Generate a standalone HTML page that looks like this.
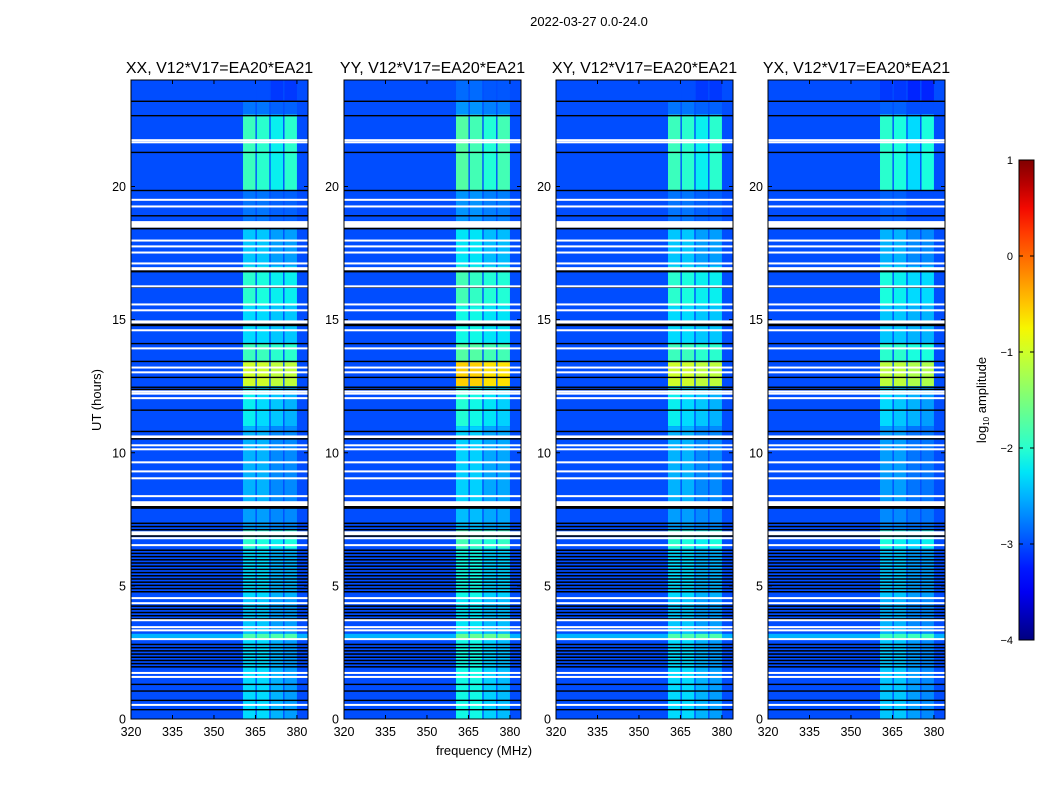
<!DOCTYPE html>
<html><head><meta charset="utf-8">
<style>
body{margin:0;background:#fff;}
svg{display:block;font-family:"Liberation Sans",sans-serif;}
</style></head>
<body>
<svg id="fig" width="1050" height="800" viewBox="0 0 1050 800">
<text x="589" y="26" font-size="13" text-anchor="middle">2022-03-27 0.0-24.0</text>
<text x="0" y="0" font-size="13" text-anchor="middle" transform="translate(101,400) rotate(-90)">UT (hours)</text>
<text x="484" y="755" font-size="13" text-anchor="middle">frequency (MHz)</text>
</svg>
<script>
// ---- data ----
const panelTitles = ["XX, V12*V17=EA20*EA21","YY, V12*V17=EA20*EA21","XY, V12*V17=EA20*EA21","YX, V12*V17=EA20*EA21"];
const panelLefts = [131,344,556,768];
const panelOffsets = [0, 0.15, 0.0, -0.1];
const xTicks = [320,335,350,365,380];
const yTicks = [0,5,10,15,20];
const cbTicks = [1,0,-1,-2,-3,-4];
const bgLevel = -3.0;
const bandStart = [360.5,365.5,370.5,375.5];
const bandEnd = [365,370,375,380];
const segStart = [23.2,22.7,19.85,18.4,17.0,15.5,14.1,13.4,12.5,11.0,8.0,7.1,6.4,4.5,3.2,3.0,0.0];
const segEnd   = [24.0,23.2,22.7,19.85,18.4,17.0,15.5,14.1,13.4,12.5,11.0,8.0,7.1,6.4,4.5,3.2,3.0];
const segB1 = [-3.0,-2.8,-1.9,-2.8,-2.4,-2.0,-2.3,-1.9,-1.0,-2.2,-2.5,-2.6,-2.0,-2.3,-2.4,-1.8,-2.3];
const segB2 = [-3.0,-2.8,-2.0,-2.8,-2.4,-2.1,-2.3,-1.9,-1.0,-2.3,-2.5,-2.6,-2.1,-2.3,-2.4,-1.8,-2.3];
const segB3 = [-3.1,-2.9,-2.2,-2.9,-2.6,-2.2,-2.4,-2.0,-1.1,-2.4,-2.7,-2.7,-2.2,-2.5,-2.6,-1.8,-2.5];
const segB4 = [-3.1,-2.9,-2.0,-2.9,-2.6,-2.2,-2.4,-2.0,-1.1,-2.5,-2.7,-2.7,-2.1,-2.5,-2.6,-1.8,-2.6];
const brightRowStart = [3.0];
const brightRowEnd = [3.2];
const brightRowLevel = [-2.5];
const whiteTimes = [21.74,21.66,19.5,19.25,17.97,17.75,17.52,17.11,16.25,15.57,15.35,14.6,13.92,13.2,13.02,12.3,12.22,12.05,10.28,10.13,9.64,9.3,9.04,8.37,6.79,6.53,4.54,4.35,3.71,3.45,3.33,3.0,1.73,1.58,0.53];
const whiteBandStart = [18.45,16.85,14.85,10.55,8.0,6.9];
const whiteBandEnd = [18.7,16.97,14.97,10.65,8.18,7.05];
const blackTimes = [23.2,22.66,21.28,19.85,18.9,18.42,16.8,16.22,14.78,14.1,13.43,12.83,12.46,12.38,11.6,10.8,7.92,1.3,1.05,0.7,0.35];
const darkStart = [7.1,4.77,3.75,1.95];
const darkEnd = [7.4,6.4,4.3,2.9];

// ---- helpers ----
const NS="http://www.w3.org/2000/svg";
const svg=document.getElementById('fig');
const pTop=80,pBot=719,pW=177,fMin=320,fMax=384,tMax=24;
const cbX=1019,cbW=15,cbTop=160,cbBot=640,vMin=-4,vMax=1;
function yOf(h){return pBot-(h/tMax)*(pBot-pTop);}
function xOf(left,f){return left+(f-fMin)/(fMax-fMin)*pW;}
function interp(pts,t){for(let i=1;i<pts.length;i++){if(t<=pts[i][0]){const a=pts[i-1],b=pts[i];return a[1]+(b[1]-a[1])*(t-a[0])/(b[0]-a[0]);}}return pts[pts.length-1][1];}
function jet(v){let t=(v-vMin)/(vMax-vMin);t=Math.max(0,Math.min(1,t));
 const r=interp([[0,0],[0.35,0],[0.66,1],[0.89,1],[1,0.5]],t);
 const g=interp([[0,0],[0.125,0],[0.375,1],[0.64,1],[0.91,0],[1,0]],t);
 const b=interp([[0,0.5],[0.11,1],[0.34,1],[0.65,0],[1,0]],t);
 return `rgb(${Math.round(r*255)},${Math.round(g*255)},${Math.round(b*255)})`;}
function mk(tag,attrs,parent){const e=document.createElementNS(NS,tag);for(const k in attrs)e.setAttribute(k,attrs[k]);(parent||svg).appendChild(e);return e;}

const segBands=[segB1,segB2,segB3,segB4];
panelLefts.forEach((L,p)=>{
 const g=mk('g',{});
 
 
 const bg=mk('rect',{x:L,y:pTop,width:pW,height:pBot-pTop,fill:jet(bgLevel)},g);
 
 
 brightRowStart.forEach((s,i)=>{
  const r=mk('rect',{x:L,y:yOf(brightRowEnd[i]),width:pW,height:yOf(s)-yOf(brightRowEnd[i]),fill:jet(brightRowLevel[i])},g);
  
  
 });
 segStart.forEach((s,i)=>{
  for(let b=0;b<4;b++){
   let v=segBands[b][i]+panelOffsets[p];
   if(p===1&&s===12.5)v+=0.3;
   const x0=xOf(L,bandStart[b]),x1=xOf(L,bandEnd[b]);
   const r=mk('rect',{x:x0,y:yOf(segEnd[i]),width:x1-x0,height:yOf(s)-yOf(segEnd[i]),fill:jet(v)},g);
   
   
  }
 });
 darkStart.forEach((s,i)=>{
  for(let h=s;h<darkEnd[i];h+=0.12){
   const r=mk('rect',{x:L,y:yOf(h)-1,width:pW,height:1.5,fill:'#000'},g);
   
   
  }
 });
 blackTimes.forEach(h=>{
  const r=mk('rect',{x:L,y:yOf(h)-0.7,width:pW,height:1.4,fill:'#000'},g);
  
  
 });
 whiteTimes.forEach(h=>{
  const r=mk('rect',{x:L,y:yOf(h)-1,width:pW,height:2,fill:'#fff'},g);
  
  
 });
 whiteBandStart.forEach((s,i)=>{
  const y0=yOf(whiteBandEnd[i]),y1=yOf(s);
  const r=mk('rect',{x:L,y:y0,width:pW,height:y1-y0,fill:'#fff'},g);
  
  
  mk('rect',{x:L,y:y1,width:pW,height:1.5,fill:'#000'},g);
 });
 const fr=mk('rect',{x:L,y:pTop,width:pW,height:pBot-pTop,fill:'none',stroke:'#000','stroke-width':1},g);
 
 
 const tt=mk('text',{x:L+pW/2,y:73,'font-size':16,'text-anchor':'middle'},g);
 tt.textContent=panelTitles[p];
 
 
 xTicks.forEach(f=>{
  const x=xOf(L,f);
  mk('line',{x1:x,x2:x,y1:pBot,y2:pBot-4,stroke:'#000'},g);
  mk('line',{x1:x,x2:x,y1:pTop,y2:pTop+4,stroke:'#000'},g);
  const t=mk('text',{x:x,y:pBot+17,'font-size':12.5,'text-anchor':'middle'},g);
  t.textContent=f;
  
  
 });
 yTicks.forEach(h=>{
  const y=yOf(h);
  mk('line',{x1:L,x2:L+4,y1:y,y2:y,stroke:'#000'},g);
  mk('line',{x1:L+pW,x2:L+pW-4,y1:y,y2:y,stroke:'#000'},g);
  const t=mk('text',{x:L-5,y:y+4.5,'font-size':12.5,'text-anchor':'end'},g);
  t.textContent=h;
  
  
 });
});

// colorbar
const defs=mk('defs',{});
const grad=mk('linearGradient',{id:'jetg',x1:0,y1:1,x2:0,y2:0},defs);
for(let i=0;i<=20;i++){const v=vMin+(vMax-vMin)*i/20;mk('stop',{offset:(i/20),'stop-color':jet(v)},grad);}
const cb=mk('rect',{x:cbX,y:cbTop,width:cbW,height:cbBot-cbTop,fill:'url(#jetg)',stroke:'#000','stroke-width':1});


cbTicks.forEach(v=>{
 const y=cbBot-(v-vMin)/(vMax-vMin)*(cbBot-cbTop);
 mk('line',{x1:cbX,x2:cbX+4,y1:y,y2:y,stroke:'#000'});
 mk('line',{x1:cbX+cbW,x2:cbX+cbW-4,y1:y,y2:y,stroke:'#000'});
 const t=mk('text',{x:cbX-6,y:y+4,'font-size':11,'text-anchor':'end'});
 t.textContent=v<0?'\u2212'+(-v):String(v);
 
 
});
const cl=mk('text',{x:0,y:0,'font-size':13,'text-anchor':'middle',transform:'translate(986,400) rotate(-90)'});
cl.innerHTML='log<tspan font-size="8" dy="3">10</tspan><tspan dy="-3"> amplitude</tspan>';


</script>
</body></html>
